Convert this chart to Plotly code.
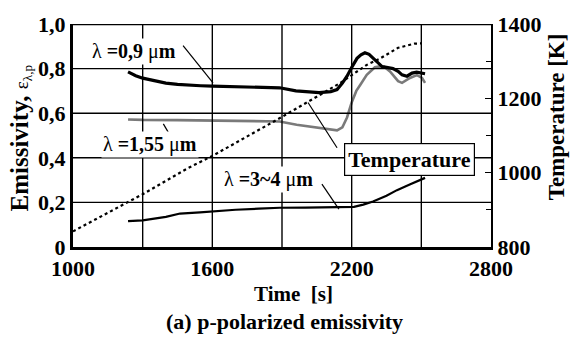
import plotly.graph_objects as go

# ---- data ----
t_09 = [1237, 1250, 1270, 1300, 1350, 1400, 1450, 1500, 1550, 1600, 1700, 1800, 1890, 1960, 2060, 2110, 2137,
        2160, 2180, 2200, 2223, 2240, 2257, 2275, 2292, 2310, 2331, 2350, 2378, 2400, 2417, 2438, 2460, 2480, 2500, 2516]
e_09 = [0.785, 0.778, 0.768, 0.757, 0.745, 0.735, 0.729, 0.725, 0.723, 0.721, 0.719, 0.716, 0.714, 0.700, 0.692, 0.697, 0.706,
        0.735, 0.766, 0.805, 0.846, 0.862, 0.871, 0.864, 0.846, 0.828, 0.809, 0.806, 0.800, 0.788, 0.772, 0.766, 0.780, 0.784, 0.780, 0.777]

t_155 = [1237, 1300, 1450, 1600, 1800, 1890, 1963, 2063, 2137, 2160, 2180, 2200, 2220, 2236, 2265, 2300,
         2322, 2340, 2365, 2400, 2417, 2451, 2481, 2503, 2516]
e_155 = [0.572, 0.570, 0.569, 0.568, 0.566, 0.563, 0.548, 0.533, 0.523, 0.537, 0.581, 0.648, 0.700, 0.725, 0.772, 0.806,
         0.810, 0.808, 0.787, 0.744, 0.736, 0.758, 0.771, 0.758, 0.736]

t_34 = [1237, 1300, 1400, 1461, 1547, 1600, 1700, 1800, 1891, 2000, 2100, 2180, 2210, 2250, 2292, 2350, 2395, 2450, 2516]
e_34 = [0.116, 0.119, 0.135, 0.150, 0.155, 0.160, 0.167, 0.172, 0.176, 0.177, 0.177, 0.177, 0.180, 0.190, 0.204, 0.230, 0.255, 0.280, 0.310]

t_T = [1000, 1300, 1491, 1600, 1900, 2006, 2150, 2265, 2322, 2400, 2440, 2470, 2503]
T_K = [842, 942, 1011, 1045, 1150, 1188, 1241, 1290, 1307, 1336, 1343, 1347, 1348]

x_ticks = [1000, 1600, 2200, 2800]
x_grid = [1300, 1600, 1900, 2200, 2500]
y_ticks = [0, 0.2, 0.4, 0.6, 0.8, 1.0]
y_labels = ["0", "0,2", "0,4", "0,6", "0,8", "1,0"]
y_grid = [0.2, 0.4, 0.6, 0.8]
y2_ticks = [800, 1000, 1200, 1400]
y2_labels = ["800", "1000", "1200", "1400"]

X_RANGE = [1000, 2800]
Y_RANGE = [0, 1.0]
Y2_RANGE = [800, 1400]

FONT = "Liberation Serif, Times New Roman, DejaVu Serif, serif"

fig = go.Figure()
fig.add_trace(go.Scatter(x=t_T, y=T_K, yaxis="y2", mode="lines",
                         line=dict(color="black", width=2.2, dash="dot"), showlegend=False))
fig.add_trace(go.Scatter(x=t_155, y=e_155, mode="lines",
                         line=dict(color="#7a7a7a", width=2.6), showlegend=False))
fig.add_trace(go.Scatter(x=t_34, y=e_34, mode="lines",
                         line=dict(color="black", width=2.2), showlegend=False))
fig.add_trace(go.Scatter(x=t_09, y=e_09, mode="lines",
                         line=dict(color="black", width=3.2), showlegend=False))

shapes = []
# grid lines (data-referenced)
for gx in x_grid:
    shapes.append(dict(type="line", xref="x", yref="y", x0=gx, x1=gx, y0=Y_RANGE[0], y1=Y_RANGE[1],
                       layer="above", line=dict(color="black", width=1.4)))
for gy in y_grid:
    shapes.append(dict(type="line", xref="x", yref="y", x0=X_RANGE[0], x1=X_RANGE[1], y0=gy, y1=gy,
                       layer="above", line=dict(color="black", width=1.4)))
# top border
shapes.append(dict(type="line", xref="x", yref="y", x0=X_RANGE[0], x1=X_RANGE[1], y0=Y_RANGE[1], y1=Y_RANGE[1],
                   layer="above", line=dict(color="black", width=2.4)))
# leader lines (data coordinates)
leaders = [
    (1474, 0.903, 1603, 0.736),
    (1389, 0.552, 1410, 0.515),
    (2012, 0.648, 2137, 0.445),
    (2072, 0.282, 2145, 0.170),
]
for x0, y0, x1, y1 in leaders:
    shapes.append(dict(type="line", xref="x", yref="y", x0=x0, y0=y0, x1=x1, y1=y1,
                       line=dict(color="black", width=1.2)))

ann = []
def label(text, x, y, size=20, **kw):
    d = dict(text=text, x=x, y=y, xref="x", yref="y", showarrow=False,
             font=dict(family=FONT, size=size, color="black"), xanchor="center", yanchor="middle")
    d.update(kw)
    ann.append(d)

label("λ <b>=0,9</b> μ<b>m</b>", 1263, 0.877, bgcolor="white")
label("λ <b>=1,55</b> μ<b>m</b>", 1332, 0.458, bgcolor="white")
label("λ <b>=3~4</b> μ<b>m</b>", 1840, 0.304, bgcolor="white")
label("<b>Temperature</b>", 2447, 0.392, size=22, bgcolor="white", bordercolor="black",
      borderwidth=1.2, borderpad=3)

def paper_text(text, x, y, size, angle=0):
    ann.append(dict(text=text, x=x, y=y, xref="paper", yref="paper", showarrow=False,
                    textangle=angle, xanchor="center", yanchor="middle",
                    font=dict(family=FONT, size=size, color="black")))

paper_text("<b>Emissivity,</b> <span style='font-size:19px'>ε<sub>λ,p</sub></span>", -0.125, 0.49, 25, -90)
paper_text("<b>Temperature [K]</b>", 1.1555, 0.586, 23, -90)
paper_text("<b>Time  [s]</b>", 0.527, -0.211, 21)
paper_text("<b>(a) p-polarized emissivity</b>", 0.505, -0.335, 22)

fig.update_layout(
    width=577, height=338,
    margin=dict(l=73, r=86, t=20, b=91),
    paper_bgcolor="white", plot_bgcolor="white",
    font=dict(family=FONT, color="black"),
    shapes=shapes, annotations=ann,
    xaxis=dict(range=X_RANGE, tickvals=x_ticks,
               showgrid=False,
               showline=True, linecolor="black", linewidth=2.8,
               ticks="", zeroline=False,
               tickfont=dict(family=FONT, size=22, color="black", weight="bold")),
    yaxis=dict(range=Y_RANGE, tickvals=y_ticks, ticktext=y_labels,
               showgrid=False, ticklabeloverflow="allow",
               showline=True, linecolor="black", linewidth=3,
               ticks="", zeroline=False,
               tickfont=dict(family=FONT, size=22, color="black", weight="bold")),
    yaxis2=dict(range=Y2_RANGE, tickvals=y2_ticks, ticktext=y2_labels,
                overlaying="y", side="right", showgrid=False, ticklabeloverflow="allow",
                showline=True, linecolor="black", linewidth=2.2,
                ticks="inside", ticklen=6, tickwidth=1.2, tickcolor="black",
                minor=dict(ticks="inside", ticklen=5, dtick=100, tickwidth=1, tickcolor="black"),
                zeroline=False,
                tickfont=dict(family=FONT, size=22, color="black", weight="bold")),
)

fig.write_html("out.html", config={"displayModeBar": False},
               post_script="document.body.style.margin='0';")
